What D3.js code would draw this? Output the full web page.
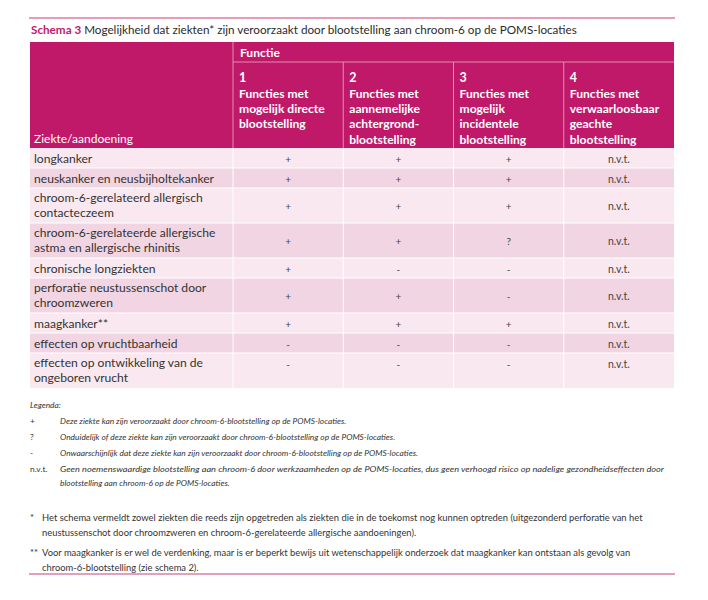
<!DOCTYPE html>
<html><head><meta charset="utf-8">
<script src="https://cdn.jsdelivr.net/npm/d3@7"></script>
<style>
html,body{margin:0;padding:0;background:#fff;}
svg{display:block;}
text{font-family:Lato,"Open Sans",sans-serif;}
</style></head>
<body>
<svg id="chart" width="708" height="600"></svg>
<script>
// ---- data ----
const titleBold = "Schema 3";
const titleRest = " Mogelijkheid dat ziekten* zijn veroorzaakt door blootstelling aan chroom-6 op de POMS-locaties";
const groupHeader = "Functie";
const rowHeader = "Ziekte/aandoening";
const columnNumbers = ["1", "2", "3", "4"];
const columnLabels = [
  "Functies met|mogelijk directe|blootstelling",
  "Functies met|aannemelijke|achtergrond-|blootstelling",
  "Functies met|mogelijk|incidentele|blootstelling",
  "Functies met|verwaarloosbaar|geachte|blootstelling"
];
const categories = [
  "longkanker",
  "neuskanker en neusbijholtekanker",
  "chroom-6-gerelateerd allergisch|contacteczeem",
  "chroom-6-gerelateerde allergische|astma en allergische rhinitis",
  "chronische longziekten",
  "perforatie neustussenschot door|chroomzweren",
  "maagkanker**",
  "effecten op vruchtbaarheid",
  "effecten op ontwikkeling van de|ongeboren vrucht"
];
const functie1 = ["+", "+", "+", "+", "+", "+", "+", "-", "-"];
const functie2 = ["+", "+", "+", "+", "-", "+", "+", "-", "-"];
const functie3 = ["+", "+", "+", "?", "-", "-", "+", "-", "-"];
const functie4 = ["n.v.t.", "n.v.t.", "n.v.t.", "n.v.t.", "n.v.t.", "n.v.t.", "n.v.t.", "n.v.t.", "n.v.t."];
const legendTitle = "Legenda:";
const legendSymbols = ["+", "?", "-", "n.v.t."];
const legendTexts = [
  "Deze ziekte kan zijn veroorzaakt door chroom-6-blootstelling op de POMS-locaties.",
  "Onduidelijk of deze ziekte kan zijn veroorzaakt door chroom-6-blootstelling op de POMS-locaties.",
  "Onwaarschijnlijk dat deze ziekte kan zijn veroorzaakt door chroom-6-blootstelling op de POMS-locaties.",
  "Geen noemenswaardige blootstelling aan chroom-6 door werkzaamheden op de POMS-locaties, dus geen verhoogd risico op nadelige gezondheidseffecten door|blootstelling aan chroom-6 op de POMS-locaties."
];
const footnoteMarks = ["*", "**"];
const footnoteTexts = [
  "Het schema vermeldt zowel ziekten die reeds zijn opgetreden als ziekten die in de toekomst nog kunnen optreden (uitgezonderd perforatie van het|neustussenschot door chroomzweren en chroom-6-gerelateerde allergische aandoeningen).",
  "Voor maagkanker is er wel de verdenking, maar is er beperkt bewijs uit wetenschappelijk onderzoek dat maagkanker kan ontstaan als gevolg van|chroom-6-blootstelling (zie schema 2)."
];

// ---- layout ----
const svg = d3.select("#chart");
const magenta = "#c0196a";
const left = 30, right = 674, firstColRight = 233;
const headerTop = 42, functieBottom = 62, headerBottom = 148;
const values = [functie1, functie2, functie3, functie4];

const x = d3.scaleBand().domain(columnNumbers).range([firstColRight, right]).paddingInner(0);

const lineCounts = categories.map(c => c.split("|").length);
const rowH = n => n === 1 ? 20 : 35;
const rowTops = [];
let acc = headerBottom;
lineCounts.forEach(n => { rowTops.push(acc); acc += rowH(n); });
const tableBottom = acc;
const y = d3.scaleOrdinal().domain(d3.range(categories.length)).range(rowTops);

// top rule
svg.append("line").attr("x1", 29).attr("x2", 675).attr("y1", 18).attr("y2", 18)
  .attr("stroke", "#e27aa2").attr("stroke-width", 1.6);

// title
const t = svg.append("text").attr("x", 31).attr("y", 34).attr("font-size", 11.7);
t.append("tspan").attr("fill", magenta).attr("font-weight", 700).text(titleBold);
t.append("tspan").attr("fill", "#2b2b2b").text(titleRest);

// header background
svg.append("rect").attr("x", left).attr("y", headerTop).attr("width", right - left)
  .attr("height", headerBottom - headerTop).attr("fill", magenta);
const hdrLine = "#e48cb2";
svg.append("line").attr("x1", firstColRight).attr("x2", right).attr("y1", functieBottom).attr("y2", functieBottom)
  .attr("stroke", hdrLine).attr("stroke-width", 1);
svg.append("line").attr("x1", firstColRight).attr("x2", firstColRight).attr("y1", headerTop).attr("y2", headerBottom)
  .attr("stroke", hdrLine).attr("stroke-width", 1);
svg.selectAll(".hdiv").data(columnNumbers.slice(1)).enter().append("line")
  .attr("x1", d => x(d)).attr("x2", d => x(d)).attr("y1", functieBottom).attr("y2", headerBottom)
  .attr("stroke", hdrLine).attr("stroke-width", 1);

svg.append("text").attr("x", firstColRight + 7).attr("y", 57).attr("fill", "#fff")
  .attr("font-size", 12).attr("font-weight", 700).text(groupHeader);
svg.append("text").attr("x", 34).attr("y", 143).attr("fill", "#fff")
  .attr("font-size", 12).attr("font-weight", 400).text(rowHeader);

const hcols = svg.selectAll(".hcol").data(columnNumbers).enter().append("g");
hcols.append("text").attr("x", d => x(d) + 6).attr("y", 82).attr("fill", "#fff")
  .attr("font-size", 12.5).attr("font-weight", 700).text(d => d);
hcols.each(function(d, i) {
  const lines = columnLabels[i].split("|");
  d3.select(this).selectAll(".hl").data(lines).enter().append("text")
    .attr("x", x(d) + 6).attr("y", (l, j) => 98 + j * 15.2)
    .attr("fill", "#fff").attr("font-size", 12.1).attr("font-weight", 700).text(l => l);
});

// body rows
const rowG = svg.selectAll(".row").data(categories).enter().append("g");
rowG.append("rect").attr("x", left).attr("y", (d, i) => y(i)).attr("width", right - left)
  .attr("height", (d, i) => rowH(lineCounts[i]))
  .attr("fill", (d, i) => i % 2 === 0 ? "#f9e8ef" : "#f1d5e2");
rowG.filter((d, i) => i > 0).append("line").attr("x1", left).attr("x2", right)
  .attr("y1", (d, i) => y(i + 1)).attr("y2", (d, i) => y(i + 1)).attr("stroke", "#fff").attr("stroke-width", 1);
svg.selectAll(".bdiv").data(columnNumbers).enter().append("line")
  .attr("x1", d => x(d)).attr("x2", d => x(d)).attr("y1", headerBottom).attr("y2", tableBottom)
  .attr("stroke", "#fff").attr("stroke-width", 1);

rowG.each(function(d, i) {
  const lines = d.split("|");
  const n = lines.length;
  const top = y(i), h = rowH(n);
  const g = d3.select(this);
  g.selectAll(".cl").data(lines).enter().append("text")
    .attr("x", 34).attr("y", (l, j) => top + (n === 1 ? 14.5 : 14 + j * 15))
    .attr("fill", "#333").attr("font-size", 12.1).text(l => l);
  const lastRow = i === categories.length - 1;
  const symY = (n === 1 || lastRow) ? top + 14.5 : top + h / 2 + 4;
  g.selectAll(".v").data(values.map(v => v[i])).enter().append("text")
    .attr("x", (v, k) => x(columnNumbers[k]) + x.bandwidth() / 2)
    .attr("y", symY).attr("text-anchor", "middle")
    .attr("fill", "#444").attr("font-size", v => v === "n.v.t." ? 10.5 : 10).text(v => v);
});

// legend
svg.append("text").attr("x", 30).attr("y", 408).attr("font-size", 8.4).attr("font-style", "italic")
  .attr("fill", "#333").text(legendTitle);
const legY = [424, 440, 456, 472];
legendSymbols.forEach((s, i) => {
  svg.append("text").attr("x", 30).attr("y", legY[i]).attr("font-size", 8.4).attr("fill", "#333").text(s);
  legendTexts[i].split("|").forEach((l, j) => {
    const tx = svg.append("text").attr("x", 60).attr("y", legY[i] + j * 14).attr("font-size", 8.4)
      .attr("font-style", "italic").attr("fill", "#333").text(l);
    if (i === 3 && j === 0) tx.attr("textLength", 604).attr("lengthAdjust", "spacingAndGlyphs");
  });
});

// footnotes
const fnY = [521, 556];
footnoteMarks.forEach((m, i) => {
  svg.append("text").attr("x", 30).attr("y", fnY[i]).attr("font-size", 9.4).attr("fill", "#333").text(m);
  footnoteTexts[i].split("|").forEach((l, j) => {
    svg.append("text").attr("x", 42).attr("y", fnY[i] + j * 14.5).attr("font-size", 9.4)
      .attr("fill", "#333").text(l);
  });
});

// bottom rule
svg.append("line").attr("x1", 29).attr("x2", 675).attr("y1", 574).attr("y2", 574)
  .attr("stroke", "#e3a0bd").attr("stroke-width", 2);
</script>
</body></html>
